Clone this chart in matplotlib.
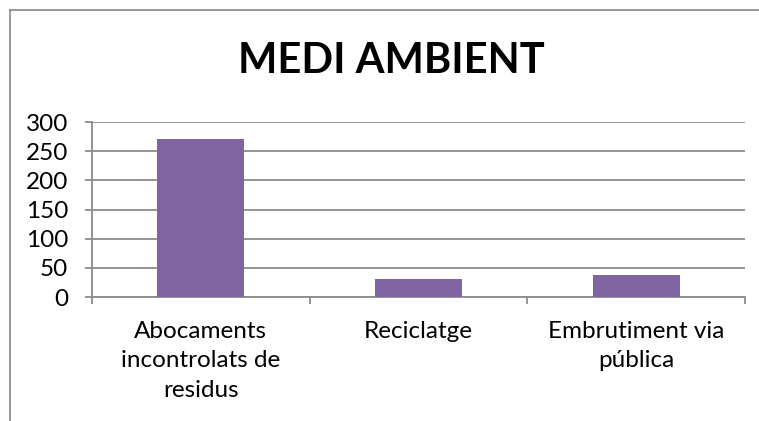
import numpy as np
import matplotlib
matplotlib.use('Agg')
import matplotlib.pyplot as plt
from matplotlib.lines import Line2D

categories = ['Abocaments\nincontrolats de\nresidus', 'Reciclatge', 'Embrutiment via\npública']
values = [271, 31, 38]
yticks = [0, 50, 100, 150, 200, 250, 300]

BAR = '#8064A2'
GRID = '#8c8c8c'
FONT = ['Lato', 'DejaVu Sans']

plt.rcParams['font.family'] = FONT

W, H = 759, 421
fig = plt.figure(figsize=(W / 100, H / 100), dpi=100)
fig.patch.set_facecolor('white')

# chart frame (only top and left edge are visible in the crop)
fig.add_artist(Line2D([10 / W, 10 / W], [0, 1 - 10 / H], color='#878787', lw=1.2,
                      transform=fig.transFigure))
fig.add_artist(Line2D([10 / W, 1], [1 - 10 / H, 1 - 10 / H], color='#878787', lw=1.2,
                      transform=fig.transFigure))

ax = fig.add_axes([92 / W, (H - 297) / H, (745 - 92) / W, (297 - 122) / H])
x = np.arange(len(categories))
ax.bar(x, values, width=0.4, color=BAR, zorder=3)
ax.set_xlim(-0.5, len(categories) - 0.5)
ax.set_ylim(0, 300)
ax.set_yticks(yticks)
ax.yaxis.grid(True, color=GRID, lw=1.3, zorder=0)
ax.set_axisbelow(True)

for side in ['top', 'right']:
    ax.spines[side].set_visible(False)
ax.spines['left'].set_color(GRID)
ax.spines['bottom'].set_color(GRID)
ax.spines['left'].set_linewidth(1.3)
ax.spines['bottom'].set_linewidth(1.3)

ax.set_xticks(x)
ax.set_xticklabels(categories, fontsize=17.5, linespacing=1.5, va='top')
ax.set_xticks(np.arange(len(categories) + 1) - 0.5, minor=True)
ax.tick_params(axis='x', which='major', length=0, pad=17)
ax.tick_params(axis='x', which='minor', length=5, color=GRID, width=1.3)
ax.tick_params(axis='y', length=5, color=GRID, width=1.3, pad=12, labelsize=17.5)

fig.text(391 / W, 1 - 61 / H, 'MEDI AMBIENT', fontsize=30, weight='bold',
         ha='center', va='center')

fig.savefig('out.png', dpi=100, facecolor='white')
